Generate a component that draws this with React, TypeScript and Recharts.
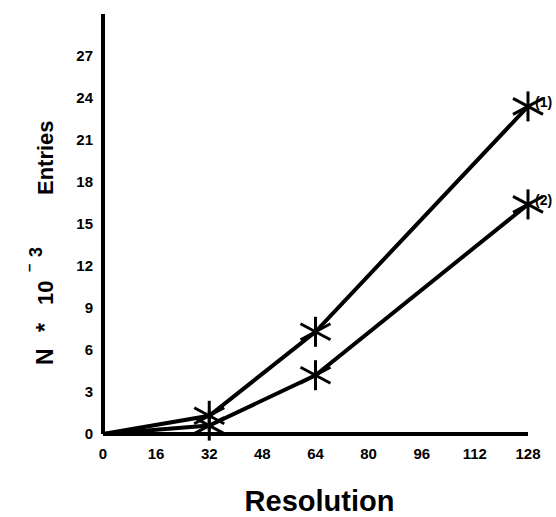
import React from "react";
import { LineChart, Line, XAxis, YAxis, Label } from "recharts";

const resolution = [0, 32, 64, 128];
const series1 = [0, 1.3, 7.3, 23.4];
const series2 = [0, 0.6, 4.2, 16.4];
const seriesLabels = ["(1)", "(2)"];
const xTicks = [0, 16, 32, 48, 64, 80, 96, 112, 128];
const yTicks = [0, 3, 6, 9, 12, 15, 18, 21, 24, 27];

const data = resolution.map((r, i) => ({ r, s1: series1[i], s2: series2[i] }));

const FONT = "'Liberation Sans', Arial, Helvetica, sans-serif";

const makeDot = (label: string) => (props: any) => {
  const { cx, cy, index } = props;
  if (index === 0 || cx == null || cy == null) return <g key={`d-${label}-${index}`} />;
  const last = index === data.length - 1;
  return (
    <g key={`d-${label}-${index}`}>
      <g stroke="#000" strokeWidth={3} strokeLinecap="butt">
        <line x1={cx} y1={cy - 15} x2={cx} y2={cy + 15} />
        <line x1={cx - 15} y1={cy - 8} x2={cx + 15} y2={cy + 8} />
        <line x1={cx - 15} y1={cy + 8} x2={cx + 15} y2={cy - 8} />
      </g>
      {last && (
        <text x={cx + 7} y={cy + 1} fontSize={14} fontWeight="bold" fontFamily={FONT} fill="#000">
          {label}
        </text>
      )}
    </g>
  );
};

const YTitle = () => (
  <g transform="translate(53,365) rotate(-90)" fontFamily={FONT} fontWeight="bold" fill="#000">
    <text x={0} y={0} fontSize={23}>N</text>
    <text x={33} y={0} fontSize={23}>*</text>
    <text x={60} y={0} fontSize={22}>10</text>
    <text x={93} y={-19} fontSize={15}>–</text>
    <text x={108} y={-11} fontSize={18}>3</text>
    <text x={170} y={0} fontSize={22}>Entries</text>
  </g>
);

const XTitle = (props: any) => {
  const vb = props.viewBox || {};
  const cx = (vb.x ?? 103) + (vb.width ?? 425) / 2 + 4;
  return (
    <text x={cx} y={511} textAnchor="middle" fontSize={29} fontWeight="bold" fontFamily={FONT} fill="#000">
      Resolution
    </text>
  );
};

export default function App() {
  return (
    <div style={{ position: "absolute", left: 0, top: 0, background: "#fff" }}>
      <LineChart
        width={556}
        height={517}
        data={data}
        margin={{ top: 14, right: 28, bottom: 0, left: 43 }}
      >
        <XAxis
          dataKey="r"
          type="number"
          domain={[0, 128]}
          ticks={xTicks}
          height={83}
          tickLine={false}
          tickSize={0}
          tickMargin={14}
          axisLine={{ stroke: "#000", strokeWidth: 4 }}
          tick={{ fill: "#000", fontSize: 15, fontWeight: "bold", fontFamily: FONT }}
          interval={0}
        >
          <Label content={<XTitle />} />
        </XAxis>
        <YAxis
          type="number"
          domain={[0, 30]}
          ticks={yTicks}
          width={60}
          tickLine={false}
          tickSize={0}
          tickMargin={10}
          axisLine={{ stroke: "#000", strokeWidth: 4 }}
          tick={{ fill: "#000", fontSize: 15, fontWeight: "bold", fontFamily: FONT }}
          interval={0}
        >
          <Label content={<YTitle />} />
        </YAxis>
        <Line
          type="linear"
          dataKey="s1"
          stroke="#000"
          strokeWidth={4}
          dot={makeDot(seriesLabels[0])}
          activeDot={false}
          isAnimationActive={false}
        />
        <Line
          type="linear"
          dataKey="s2"
          stroke="#000"
          strokeWidth={4}
          dot={makeDot(seriesLabels[1])}
          activeDot={false}
          isAnimationActive={false}
        />
      </LineChart>
    </div>
  );
}
